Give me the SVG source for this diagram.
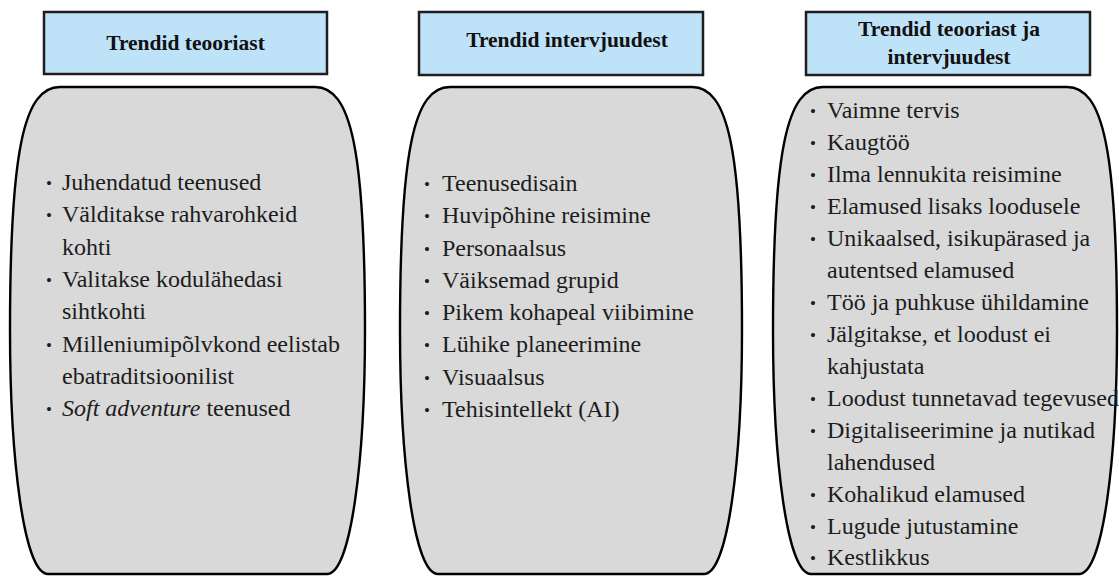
<svg xmlns="http://www.w3.org/2000/svg" width="1119" height="576" viewBox="0 0 1119 576">
  <style>
    .hdr { fill: #bee3f9; stroke: #1e1e1e; stroke-width: 2.5; }
    .hdr-t { font-family: 'Liberation Serif', serif; font-weight: bold; font-size: 21.5px; fill: #111; text-anchor: middle; }
    .body { fill: #d9d9d9; stroke: #000; stroke-width: 2.4; }
    .item { font-family: 'Liberation Serif', serif; font-size: 24px; fill: #1c1c1c; }
    .bul { font-family: 'Liberation Serif', serif; font-size: 17px; fill: #1c1c1c; }
  </style>
  <rect width="1119" height="576" fill="#ffffff"/>

  <!-- column 1: trends from theory -->
  <g id="theory-header">
    <rect class="hdr" x="44" y="12" width="283" height="62"/>
    <text class="hdr-t" x="185.5" y="50">Trendid teooriast</text>
  </g>
  <g id="theory-list">
    <path class="body" d="M60,87 L315,87 C351,87 365,150 365,330 C365,460 351,574 327,574 L48,574 C24,574 10,460 10,330 C10,150 24,87 60,87 Z"/>
    <text class="bul" x="46" y="189">•</text><text class="item" x="62" y="190">Juhendatud teenused</text>
    <text class="bul" x="46" y="221">•</text><text class="item" x="62" y="222">Välditakse rahvarohkeid</text>
    <text class="item" x="62" y="254.5">kohti</text>
    <text class="bul" x="46" y="286">•</text><text class="item" x="62" y="287">Valitakse kodulähedasi</text>
    <text class="item" x="62" y="319">sihtkohti</text>
    <text class="bul" x="46" y="350.5">•</text><text class="item" x="62" y="351.5">Milleniumipõlvkond eelistab</text>
    <text class="item" x="62" y="384">ebatraditsioonilist</text>
    <text class="bul" x="46" y="415">•</text><text class="item" x="62" y="416"><tspan font-style="italic">Soft adventure</tspan> teenused</text>
  </g>

  <!-- column 2: trends from interviews -->
  <g id="interview-header">
    <rect class="hdr" x="419" y="12" width="284" height="63"/>
    <text class="hdr-t" x="567" y="47">Trendid intervjuudest</text>
  </g>
  <g id="interview-list">
    <path class="body" d="M450,87 L692,87 C728,87 742,150 742,330 C742,460 728,574 704,574 L438,574 C414,574 400,460 400,330 C400,150 414,87 450,87 Z"/>
    <text class="bul" x="424" y="190">•</text><text class="item" x="442" y="191">Teenusedisain</text>
    <text class="bul" x="424" y="222">•</text><text class="item" x="442" y="223">Huvipõhine reisimine</text>
    <text class="bul" x="424" y="254.5">•</text><text class="item" x="442" y="255.5">Personaalsus</text>
    <text class="bul" x="424" y="287">•</text><text class="item" x="442" y="288">Väiksemad grupid</text>
    <text class="bul" x="424" y="319">•</text><text class="item" x="442" y="320">Pikem kohapeal viibimine</text>
    <text class="bul" x="424" y="351">•</text><text class="item" x="442" y="352">Lühike planeerimine</text>
    <text class="bul" x="424" y="383.5">•</text><text class="item" x="442" y="384.5">Visuaalsus</text>
    <text class="bul" x="424" y="415.5">•</text><text class="item" x="442" y="416.5">Tehisintellekt (AI)</text>
  </g>

  <!-- column 3: trends from both theory and interviews -->
  <g id="combined-header">
    <rect class="hdr" x="806" y="12" width="284" height="63"/>
    <text class="hdr-t" x="949" y="36">Trendid teooriast ja</text>
    <text class="hdr-t" x="949" y="64">intervjuudest</text>
  </g>
  <g id="combined-list">
    <path class="body" d="M823,87 L1067,87 C1103,87 1117,150 1117,330 C1117,460 1103,574 1079,574 L811,574 C787,574 773,460 773,330 C773,150 787,87 823,87 Z"/>
    <text class="bul" x="810" y="117">•</text><text class="item" x="827" y="118">Vaimne tervis</text>
    <text class="bul" x="810" y="149">•</text><text class="item" x="827" y="150">Kaugtöö</text>
    <text class="bul" x="810" y="181">•</text><text class="item" x="827" y="182">Ilma lennukita reisimine</text>
    <text class="bul" x="810" y="212.5">•</text><text class="item" x="827" y="213.5">Elamused lisaks loodusele</text>
    <text class="bul" x="810" y="244.5">•</text><text class="item" x="827" y="245.5">Unikaalsed, isikupärased ja</text>
    <text class="item" x="827" y="277.5">autentsed elamused</text>
    <text class="bul" x="810" y="308.5">•</text><text class="item" x="827" y="309.5">Töö ja puhkuse ühildamine</text>
    <text class="bul" x="810" y="340.5">•</text><text class="item" x="827" y="341.5">Jälgitakse, et loodust ei</text>
    <text class="item" x="827" y="373.5">kahjustata</text>
    <text class="bul" x="810" y="404.5">•</text><text class="item" x="827" y="405.5">Loodust tunnetavad tegevused</text>
    <text class="bul" x="810" y="436.5">•</text><text class="item" x="827" y="437.5">Digitaliseerimine ja nutikad</text>
    <text class="item" x="827" y="469.5">lahendused</text>
    <text class="bul" x="810" y="500.5">•</text><text class="item" x="827" y="501.5">Kohalikud elamused</text>
    <text class="bul" x="810" y="532.5">•</text><text class="item" x="827" y="533.5">Lugude jutustamine</text>
    <text class="bul" x="810" y="564">•</text><text class="item" x="827" y="565">Kestlikkus</text>
  </g>
</svg>
